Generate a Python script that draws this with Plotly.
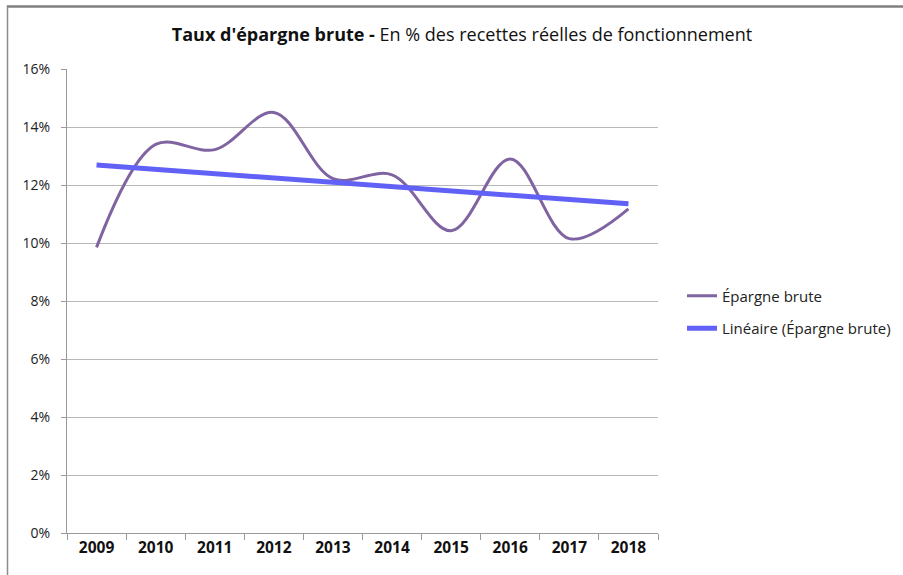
import numpy as np
import plotly.graph_objects as go

years = ["2009", "2010", "2011", "2012", "2013", "2014", "2015", "2016", "2017", "2018"]
epargne = [9.85, 13.4, 13.22, 14.5, 12.22, 12.35, 10.42, 12.9, 10.15, 11.18]
y_ticks = [0, 2, 4, 6, 8, 10, 12, 14, 16]

# Linear trend (Excel "Linéaire") computed from the series
xi = np.arange(len(epargne))
slope, intercept = np.polyfit(xi, epargne, 1)
trend = list(slope * xi + intercept)

FONT = "Open Sans"

fig = go.Figure()
fig.add_trace(go.Scatter(
    x=years, y=epargne, mode="lines", name="Épargne brute",
    line=dict(color="#8064A2", width=3, shape="spline", smoothing=1.0),
    legendgroup="a",
))
fig.add_trace(go.Scatter(
    x=years, y=trend, mode="lines", name="Linéaire (Épargne brute)",
    line=dict(color="#6161F7", width=5),
    legendgroup="b",
))

W, H = 903, 575
L, R, T, B = 67, 245, 69, 42
PW, PH = W - L - R, H - T - B


def px_x(x):
    return (x - L) / PW


def px_y(y):
    return (H - B - y) / PH


fig.update_layout(
    width=W, height=H,
    margin=dict(l=L, r=R, t=T, b=B, autoexpand=False),
    paper_bgcolor="white", plot_bgcolor="white",
    font=dict(family=FONT, size=14, color="#222222"),
    title=dict(
        text="<b>Taux d'épargne brute -</b> En % des recettes réelles de fonctionnement",
        x=462 / W, xanchor="center", y=1 - 35 / H, yanchor="middle",
        font=dict(family=FONT, size=18, color="#111111"),
    ),
    showlegend=True,
    legend=dict(
        x=px_x(682), xanchor="left",
        y=px_y(312), yanchor="middle",
        font=dict(family=FONT, size=15, color="#222222"),
        tracegroupgap=10, traceorder="grouped",
        bgcolor="rgba(0,0,0,0)",
    ),
    xaxis=dict(
        type="category", showgrid=False, showline=True, linecolor="#9A9A9A",
        linewidth=1, ticks="outside", tickson="boundaries", ticklen=6,
        tickcolor="#9A9A9A", tickfont=dict(family=FONT, size=15.5, color="#111111", weight="bold"),
        range=[-0.5, 9.5], fixedrange=True,
    ),
    yaxis=dict(
        range=[0, 16], tickvals=y_ticks, ticktext=[f"{v}%" for v in y_ticks],
        showgrid=True, gridcolor="#B8B8B8", gridwidth=1, zeroline=False,
        showline=True, linecolor="#9A9A9A", linewidth=1,
        ticks="outside", ticklen=5, tickcolor="#9A9A9A",
        ticklabelstandoff=8,
        tickfont=dict(family=FONT, size=14, color="#222222"),
    ),
    shapes=[
        dict(type="line", xref="paper", yref="paper",
             x0=px_x(7), x1=px_x(W + 5), y0=px_y(6.5), y1=px_y(6.5),
             line=dict(color="#7F7F7F", width=2.5), layer="above"),
        dict(type="line", xref="paper", yref="paper",
             x0=px_x(7.5), x1=px_x(7.5), y0=px_y(5.5), y1=px_y(H + 5),
             line=dict(color="#8C8C8C", width=1.5), layer="above"),
    ],
)

fig.write_html("out.html", config={"displayModeBar": False},
               post_script="document.body.style.margin='0';")
